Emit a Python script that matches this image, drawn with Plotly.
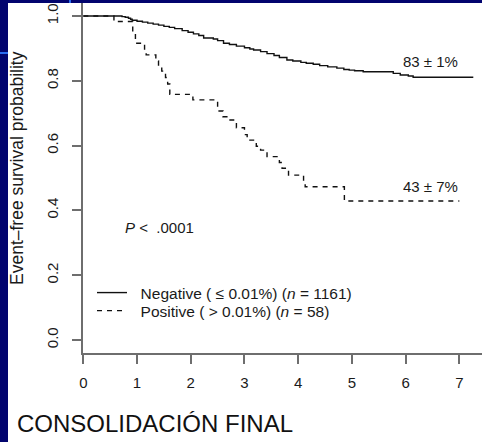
import plotly.graph_objects as go

# ---- data ----
neg_time = [0, 0.72, 0.78, 0.84, 0.88, 0.91, 1.00, 1.10, 1.20, 1.30, 1.40, 1.50, 1.60, 1.70,
            1.84, 1.95, 2.05, 2.15, 2.24, 2.42, 2.50, 2.61, 2.72, 2.85, 3.00, 3.10, 3.17,
            3.30, 3.42, 3.55, 3.65, 3.79, 3.90, 4.05, 4.15, 4.28, 4.40, 4.55, 4.72, 4.85,
            4.95, 5.05, 5.21, 5.77, 5.90, 6.05, 6.14, 7.26]
neg_surv = [1.0, 0.998, 0.996, 0.993, 0.990, 0.987, 0.984, 0.981, 0.978, 0.975, 0.972, 0.968,
            0.965, 0.961, 0.955, 0.950, 0.945, 0.940, 0.932, 0.929, 0.924, 0.916, 0.912,
            0.907, 0.902, 0.898, 0.895, 0.890, 0.884, 0.878, 0.872, 0.864, 0.861, 0.857,
            0.854, 0.851, 0.847, 0.843, 0.839, 0.835, 0.833, 0.831, 0.828, 0.823, 0.818,
            0.815, 0.811, 0.811]

pos_time = [0, 0.57, 0.92, 0.97, 1.14, 1.17, 1.35, 1.40, 1.46, 1.53, 1.57, 1.61, 2.04, 2.50,
            2.60, 2.70, 2.85, 3.00, 3.05, 3.22, 3.30, 3.42, 3.65, 3.70, 3.82, 4.10, 4.13,
            4.86, 7.00]
pos_surv = [1.0, 0.983, 0.948, 0.916, 0.898, 0.880, 0.861, 0.845, 0.830, 0.810, 0.790, 0.758,
            0.741, 0.707, 0.689, 0.679, 0.655, 0.634, 0.617, 0.598, 0.586, 0.566, 0.548,
            0.530, 0.509, 0.491, 0.473, 0.429, 0.429]

x_ticks = [0, 1, 2, 3, 4, 5, 6, 7]
y_ticks = [0.0, 0.2, 0.4, 0.6, 0.8, 1.0]
y_ticklabels = ["0.0", "0.2", "0.4", "0.6", "0.8", "1.0"]

neg_label = "\u00a0\u00a0Negative ( \u2264 0.01%) (<i>n</i> = 1161)"
pos_label = "\u00a0\u00a0Positive ( > 0.01%) (<i>n</i> = 58)"
neg_estimate = "83 \u00b1 1%"
pos_estimate = "43 \u00b1 7%"
p_text = "<i>P</i> <  .0001"
y_title = "Event\u2013free survival probability"
bottom_title = "CONSOLIDACI\u00d3N FINAL"

FONT = "Liberation Sans, Arial, Helvetica, sans-serif"
AX = "#6e6e6e"
NAVY = "#02046e"

L, R, T, B = 83, 0, 0, 89
W, H = 482, 442
pw = W - L - R
ph = H - T - B

def px_to_paper_x(px):
    return (px - L) / pw

def px_to_paper_y(py):
    return (H - B - py) / ph

fig = go.Figure()
fig.add_trace(go.Scatter(x=neg_time, y=neg_surv, mode="lines", line_shape="hv",
                         line=dict(color="#111111", width=1.4), name=neg_label,
                         legend="legend"))
fig.add_trace(go.Scatter(x=pos_time, y=pos_surv, mode="lines", line_shape="hv",
                         line=dict(color="#111111", width=1.4, dash="5px,5px"), name=pos_label,
                         legend="legend2"))

legend_common = dict(xanchor="left", yanchor="middle", bgcolor="rgba(0,0,0,0)",
                     font=dict(size=15.5, family=FONT, color="#1a1a1a"),
                     itemwidth=30, borderwidth=0)

fig.update_layout(
    width=W, height=H,
    margin=dict(l=L, r=R, t=T, b=B, pad=0, autoexpand=False),
    paper_bgcolor="white", plot_bgcolor="white",
    font=dict(family=FONT, color="#1a1a1a", size=15),
    showlegend=True,
    legend=dict(x=px_to_paper_x(92), y=px_to_paper_y(293), **legend_common),
    legend2=dict(x=px_to_paper_x(92), y=px_to_paper_y(311), **legend_common),
    xaxis=dict(range=[-0.006, 7.422], tickvals=x_ticks, showgrid=False, zeroline=False,
               automargin=False,
               showline=True, linecolor=AX, linewidth=1.5, ticks="outside", ticklen=9,
               tickcolor=AX, tickwidth=1.5, tickfont=dict(size=15, color="#1a1a1a"),
               ticklabelstandoff=6),
    yaxis=dict(range=[-0.0401, 1.0494], tickvals=y_ticks, ticktext=y_ticklabels,
               automargin=False,
               showgrid=False, zeroline=False, showline=True, linecolor=AX, linewidth=1.5,
               ticks="outside", ticklen=9, tickcolor=AX, tickwidth=1.5, tickangle=-90,
               tickfont=dict(size=15, color="#1a1a1a"), ticklabelstandoff=8),
)

fig.add_annotation(x=6.46, y=0.861, text=neg_estimate, showarrow=False,
                   font=dict(size=15), xanchor="center", yanchor="middle")
fig.add_annotation(x=6.47, y=0.473, text=pos_estimate, showarrow=False,
                   font=dict(size=15), xanchor="center", yanchor="middle")
fig.add_annotation(x=0.73, y=0.346, text=p_text, showarrow=False,
                   font=dict(size=15), xanchor="left", yanchor="middle")

fig.add_annotation(xref="paper", yref="paper", x=px_to_paper_x(17), y=px_to_paper_y(168),
                   text=y_title, textangle=-90, showarrow=False,
                   font=dict(size=17.5), xanchor="center", yanchor="middle")
fig.add_annotation(xref="paper", yref="paper", x=px_to_paper_x(155), y=px_to_paper_y(423),
                   text=bottom_title, showarrow=False,
                   font=dict(size=24, color="#111111"), xanchor="center", yanchor="middle")

# slide decoration (navy frame strips)
fig.add_shape(type="rect", xref="paper", yref="paper", layer="above",
              x0=px_to_paper_x(0), x1=px_to_paper_x(8), y0=px_to_paper_y(442), y1=px_to_paper_y(0),
              fillcolor=NAVY, line=dict(width=0))
fig.add_shape(type="rect", xref="paper", yref="paper", layer="above",
              x0=px_to_paper_x(0), x1=px_to_paper_x(482), y0=px_to_paper_y(3), y1=px_to_paper_y(0),
              fillcolor=NAVY, line=dict(width=0))
fig.add_shape(type="line", xref="paper", yref="paper", layer="above",
              x0=px_to_paper_x(0), x1=px_to_paper_x(8), y0=px_to_paper_y(53), y1=px_to_paper_y(53),
              line=dict(color="#2a6cf0", width=2))
fig.add_shape(type="line", xref="paper", yref="paper", layer="above",
              x0=px_to_paper_x(70), x1=px_to_paper_x(70), y0=px_to_paper_y(3), y1=px_to_paper_y(0),
              line=dict(color="#2a6cf0", width=2))

fig.write_html("out.html",
               config={"displayModeBar": False},
               post_script="document.body.style.margin='0';document.body.style.overflow='hidden';")
